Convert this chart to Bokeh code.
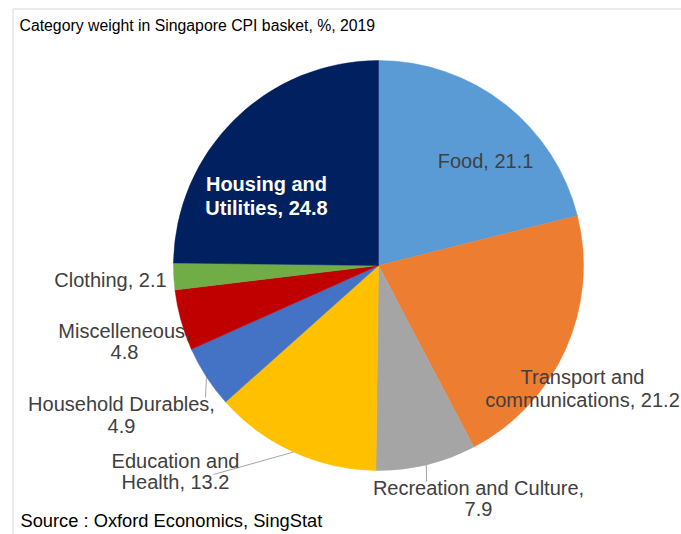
import math
from bokeh.plotting import figure
from bokeh.models import ColumnDataSource, Range1d
from bokeh.core.properties import value
from bokeh.embed import file_html
from bokeh.resources import INLINE

# ---- data ----
categories = ["Food", "Transport and communications", "Recreation and Culture",
              "Education and Health", "Household Durables", "Miscelleneous",
              "Clothing", "Housing and Utilities"]
weights = [21.1, 21.2, 7.9, 13.2, 4.9, 4.8, 2.1, 24.8]
colors = ["#5B9BD5", "#ED7D31", "#A5A5A5", "#FFC000", "#4472C4", "#C00000",
          "#70AD47", "#002060"]
label_fmt = ["Food, {}", "Transport and\ncommunications, {}",
             "Recreation and Culture,\n{}", "Education and\nHealth, {}",
             "Household Durables,\n{}", "Miscelleneous,\n{}", "Clothing, {}",
             "Housing and\nUtilities, {}"]
title_text = "Category weight in Singapore CPI basket, %, 2019"
source_text = "Source : Oxford Economics, SingStat"

# ---- layout (page pixel helpers) ----
W, H = 681, 534
def X(px):
    return px
def Y(py):
    return H - py

FONT = "Liberation Sans"
GREY = "#404040"

p = figure(width=W, height=H, x_range=Range1d(0, W), y_range=Range1d(0, H),
           output_backend="svg", toolbar_location=None, min_border=0)
p.axis.visible = False
p.grid.visible = False
p.outline_line_color = None
p.background_fill_color = "white"
p.border_fill_color = "white"

# frame lines
p.line(x=[X(12.5), X(700)], y=[Y(8.5), Y(8.5)], line_color="#d9d9d9", line_width=1)
p.line(x=[X(12.5), X(12.5)], y=[Y(8.5), Y(560)], line_color="#d9d9d9", line_width=1)

# ---- pie ----
cx, cy, r = X(378), Y(265), 205
total = sum(weights)
cum = [0.0]
for w in weights:
    cum.append(cum[-1] + w)
n = len(weights)
start = [math.pi / 2 - 2 * math.pi * cum[i + 1] / total for i in range(n)]
end = [math.pi / 2 - 2 * math.pi * cum[i] / total for i in range(n)]
mid = [(s + e) / 2 for s, e in zip(start, end)]

src = ColumnDataSource(dict(cat=categories, w=weights, start=start, end=end, color=colors))
p.wedge(x=cx, y=cy, radius=r, start_angle="start", end_angle="end",
        fill_color="color", line_color="color", line_width=0.5, source=src)

# ---- leader lines ----
leader_end = {2: (426, 481), 3: (213, 474), 4: (205, 397)}
for i, (ex, ey) in leader_end.items():
    sx = cx + r * math.cos(mid[i])
    sy = cy + r * math.sin(mid[i])
    p.line(x=[sx, X(ex)], y=[sy, Y(ey)], line_color="#a6a6a6", line_width=1)

# ---- labels ----
label_xy = [(485, 160), (582, 376), (478, 487), (175, 460), (121, 403),
            (124, 330), (110, 279), (266, 183)]
line_gap = [0, 23, 21, 21, 22, 21, 0, 24]

lx, ly, lt = [], [], []
bx, by, bt = [], [], []
for i in range(n):
    lines = label_fmt[i].format(weights[i]).split("\n")
    for k, t in enumerate(lines):
        xx = X(label_xy[i][0])
        yy = Y(label_xy[i][1] + k * line_gap[i])
        if i == n - 1:
            bx.append(xx); by.append(yy); bt.append(t)
        else:
            lx.append(xx); ly.append(yy); lt.append(t)

p.text(x=lx, y=ly, text=lt, text_font=value(FONT), text_font_size="20px",
       text_color=GREY, text_align="center", text_baseline="middle")
p.text(x=bx, y=by, text=bt, text_font=value(FONT), text_font_size="20px",
       text_font_style="bold", text_color="white", text_align="center",
       text_baseline="middle")

# title and source
p.text(x=[X(19)], y=[Y(25)], text=[title_text], text_font=value(FONT),
       text_font_size="15.8px", text_color="black", text_align="left",
       text_baseline="middle")
p.text(x=[X(20)], y=[Y(520)], text=[source_text], text_font=value(FONT),
       text_font_size="18.3px", text_color="black", text_align="left",
       text_baseline="middle")

open("out.html", "w").write(file_html(p, INLINE))
